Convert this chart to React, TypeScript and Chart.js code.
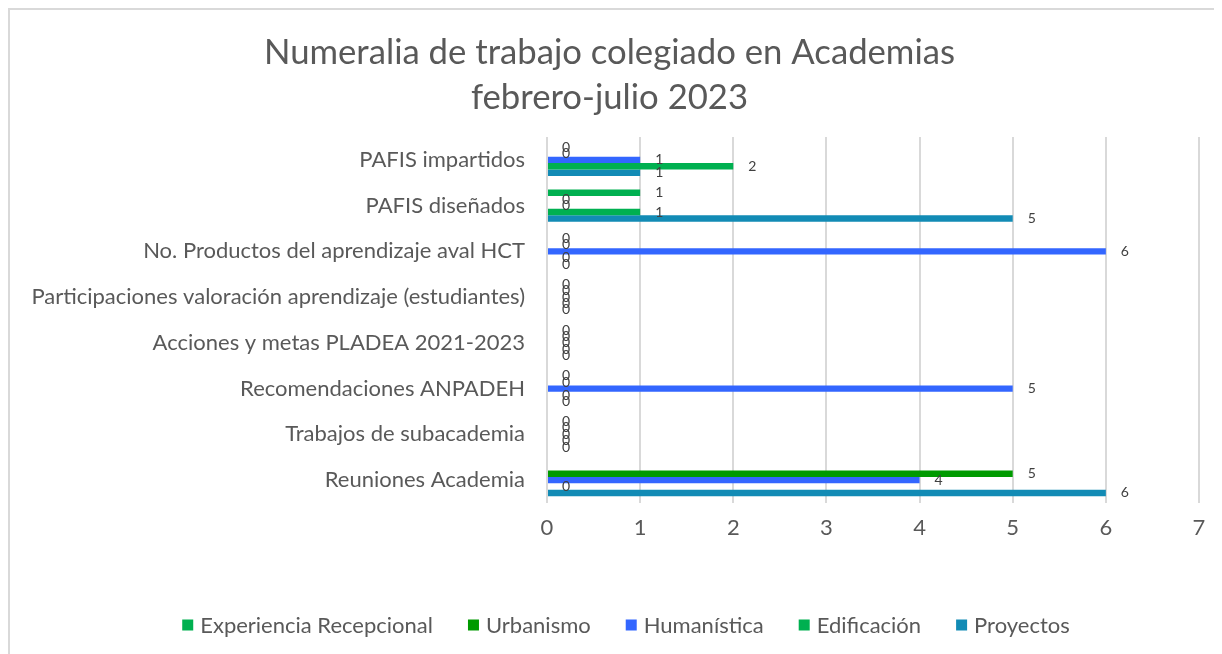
import React, { useEffect, useRef } from "react";
import { Chart, registerables } from "chart.js";

Chart.register(...registerables);

const categories = [
  "PAFIS impartidos",
  "PAFIS diseñados",
  "No. Productos del aprendizaje aval HCT",
  "Participaciones valoración aprendizaje (estudiantes)",
  "Acciones y metas PLADEA 2021-2023",
  "Recomendaciones ANPADEH",
  "Trabajos de subacademia",
  "Reuniones Academia",
];

const experienciaRecepcional = [0, 1, 0, 0, 0, 0, 0, null];
const urbanismo = [0, 0, 0, 0, 0, 0, 0, 5];
const humanistica = [1, 0, 6, 0, 0, 5, 0, 4];
const edificacion = [2, 1, 0, 0, 0, 0, 0, 0];
const proyectos = [1, 5, 0, 0, 0, 0, 0, 6];

const seriesNames = ["Experiencia Recepcional", "Urbanismo", "Humanística", "Edificación", "Proyectos"];
const seriesColors = ["#00b050", "#009a00", "#3366ff", "#00b050", "#128bb5"];
const xTicks = [0, 1, 2, 3, 4, 5, 6, 7];

const titleLines = ["Numeralia de trabajo colegiado en Academias", "febrero-julio 2023"];

const FONT = "Lato, 'Open Sans', sans-serif";

const labelPlugin = {
  id: "valueLabels",
  afterDatasetsDraw(chart: any) {
    const ctx = chart.ctx;
    ctx.save();
    ctx.font = `14px ${FONT}`;
    ctx.fillStyle = "#404040";
    ctx.textAlign = "left";
    ctx.textBaseline = "middle";
    chart.data.datasets.forEach((ds: any, di: number) => {
      const meta = chart.getDatasetMeta(di);
      meta.data.forEach((el: any, i: number) => {
        const v = ds.data[i];
        if (v === null || v === undefined) return;
        ctx.fillText(String(v), el.x + 15, el.y);
      });
    });
    ctx.restore();
  },
};

const legendPlugin = {
  id: "customLegend",
  afterDraw(chart: any) {
    const ctx = chart.ctx;
    ctx.save();
    ctx.font = `22px ${FONT}`;
    ctx.textBaseline = "middle";
    ctx.textAlign = "left";
    const box = 11;
    const gap = 7;
    const spacing = 35;
    const items = chart.data.datasets.map((ds: any) => ({
      label: ds.label,
      color: ds.backgroundColor,
      w: ctx.measureText(ds.label).width,
    }));
    const total =
      items.reduce((a: number, it: any) => a + box + gap + it.w, 0) + spacing * (items.length - 1);
    let x = chart.width / 2 - total / 2 + 3;
    const y = 615;
    items.forEach((it: any) => {
      ctx.fillStyle = it.color;
      ctx.fillRect(x, y - box / 2, box, box);
      ctx.fillStyle = "#595959";
      ctx.fillText(it.label, x + box + gap, y + 1);
      x += box + gap + it.w + spacing;
    });
    ctx.restore();
  },
};

export default function App() {
  const ref = useRef<HTMLCanvasElement | null>(null);
  useEffect(() => {
    document.body.style.overflow = "hidden";
    const seriesData = [experienciaRecepcional, urbanismo, humanistica, edificacion, proyectos];
    const chart = new Chart(ref.current!, {
      type: "bar",
      data: {
        labels: categories,
        datasets: seriesNames.map((name, i) => ({
          label: name,
          data: seriesData[i] as any,
          backgroundColor: seriesColors[i],
          borderWidth: 0,
          categoryPercentage: 0.7,
          barPercentage: 1,
        })),
      },
      options: {
        indexAxis: "y",
        animation: false,
        responsive: false,
        layout: { padding: { top: 20, left: 10, right: 37, bottom: 123 } },
        plugins: {
          title: {
            display: true,
            text: titleLines,
            color: "#595959",
            font: { family: FONT, size: 34.7, weight: "normal", lineHeight: "45px" as any },
            padding: { top: 0, bottom: 17 },
          },
          legend: { display: false },
          tooltip: { enabled: false },
        },
        scales: {
          x: {
            min: 0,
            max: 7,
            afterBuildTicks: (s: any) => {
              s.ticks = xTicks.map((v) => ({ value: v }));
            },
            ticks: { color: "#595959", font: { family: FONT, size: 22 }, padding: 12 },
            grid: { color: "#d9d9d9", lineWidth: 2, drawTicks: false },
            border: { display: false },
            afterFit: (s: any) => {
              s.height = 60;
            },
          },
          y: {
            ticks: { color: "#595959", font: { family: FONT, size: 22 }, padding: 22 },
            grid: { display: false, drawTicks: false },
            border: { display: false },
            afterFit: (s: any) => {
              s.width = 527;
            },
          },
        },
      },
      plugins: [labelPlugin, legendPlugin],
    });
    return () => chart.destroy();
  }, []);
  return (
    <div style={{ border: "2px solid #d9d9d9", width: 1230, height: 680, boxSizing: "border-box" }}>
      <canvas ref={ref} width={1226} height={676} style={{ display: "block" }} />
    </div>
  );
}
